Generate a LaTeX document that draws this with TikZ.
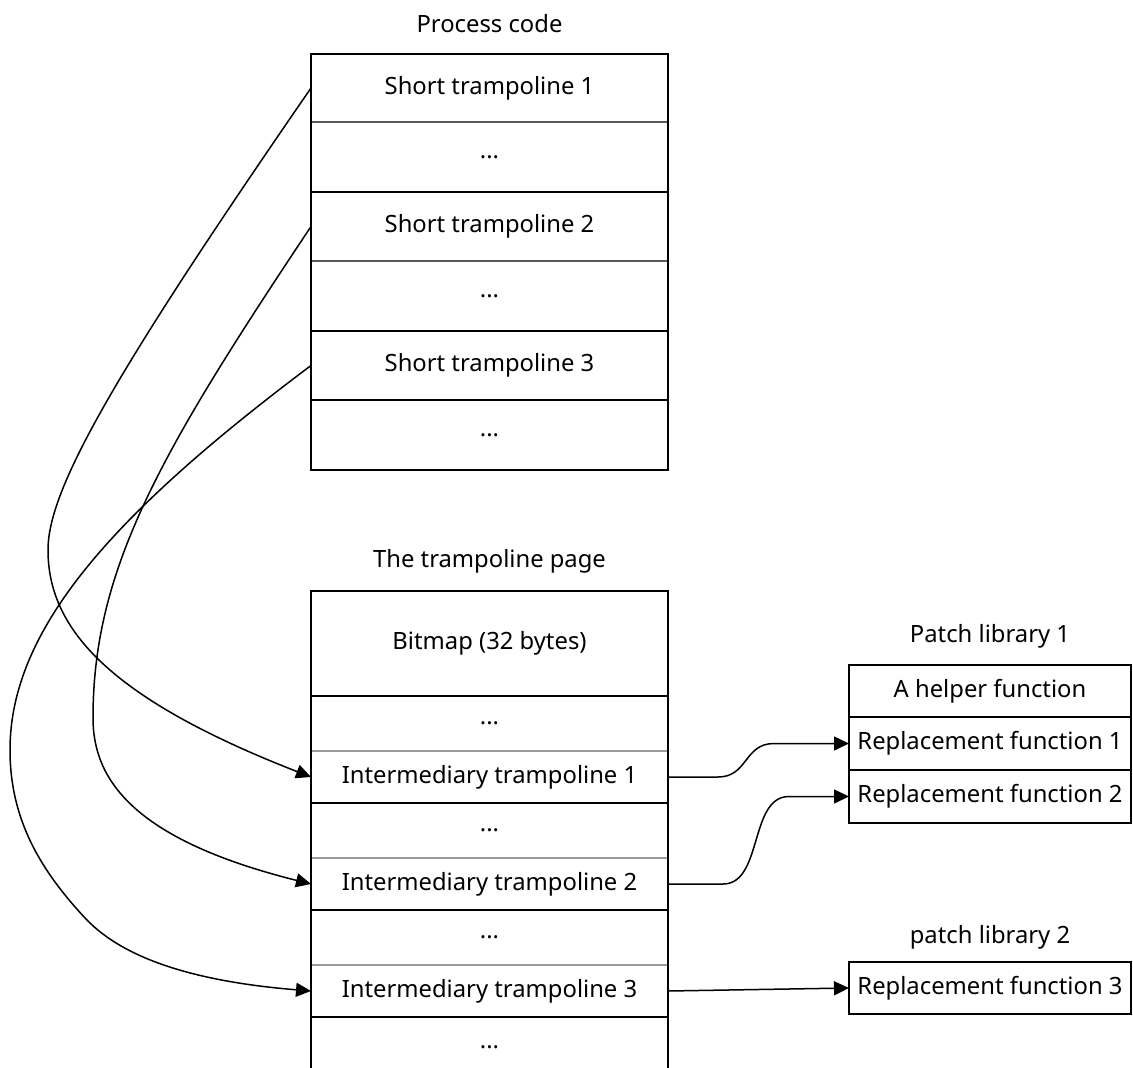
\documentclass[tikz,border=0pt]{standalone}
\usepackage{fontspec}
\setmainfont{Noto Sans}
\usetikzlibrary{arrows.meta}
\begin{document}
\begin{tikzpicture}[x=1pt,y=-1pt,
  every node/.style={font=\fontsize{23.8}{28}\selectfont, inner sep=0pt, outer sep=0pt},
  pcell/.style={minimum width=357pt},
  lcell/.style={minimum width=282pt},
  title/.style={anchor=base},
  frame/.style={line width=1.8pt, line join=miter},
  rule/.style={line width=1.4pt},
  midrule/.style={line width=1.4pt, draw=black!65},
  softrule/.style={line width=1.4pt, draw=black!40},
  conn/.style={line width=1.5pt, -{Triangle[length=15pt,width=14pt]}},
]
\useasboundingbox (0,0) rectangle (1133,1068);
\fill[white] (0,0) rectangle (1133,1068);

% ---- Process code ----
\node[title] (pctitle) at (489.5,32) {Process code};
\node[pcell, minimum height=68pt] (st1) at (489.5,88)    {Short trampoline 1};
\node[pcell, minimum height=70pt] (pd1) at (489.5,157)   {...};
\node[pcell, minimum height=69pt] (st2) at (489.5,226.5) {Short trampoline 2};
\node[pcell, minimum height=70pt] (pd2) at (489.5,296)   {...};
\node[pcell, minimum height=69pt] (st3) at (489.5,365.5) {Short trampoline 3};
\node[pcell, minimum height=70pt] (pd3) at (489.5,435)   {...};
\draw[midrule] (st1.south west) -- (st1.south east);
\draw[rule]    (pd1.south west) -- (pd1.south east);
\draw[midrule] (st2.south west) -- (st2.south east);
\draw[rule]    (pd2.south west) -- (pd2.south east);
\draw[rule]    (st3.south west) -- (st3.south east);
\draw[frame] (st1.north west) rectangle (pd3.south east);

% ---- The trampoline page (runs past the bottom edge) ----
\node[title] (tptitle) at (489.5,567) {The trampoline page};
\node[pcell, minimum height=105pt] (bm)  at (489.5,643.5) {Bitmap (32 bytes)};
\node[pcell, minimum height=55pt]  (td1) at (489.5,723.5) {...};
\node[pcell, minimum height=52pt]  (it1) at (489.5,777)   {Intermediary trampoline 1};
\node[pcell, minimum height=55pt]  (td2) at (489.5,830.5) {...};
\node[pcell, minimum height=52pt]  (it2) at (489.5,884)   {Intermediary trampoline 2};
\node[pcell, minimum height=55pt]  (td3) at (489.5,937.5) {...};
\node[pcell, minimum height=52pt]  (it3) at (489.5,991)   {Intermediary trampoline 3};
\node[pcell, minimum height=60pt]  (td4) at (489.5,1047)  {...};
\draw[rule]     (bm.south west)  -- (bm.south east);
\draw[softrule] (td1.south west) -- (td1.south east);
\draw[rule]     (it1.south west) -- (it1.south east);
\draw[softrule] (td2.south west) -- (td2.south east);
\draw[rule]     (it2.south west) -- (it2.south east);
\draw[softrule] (td3.south west) -- (td3.south east);
\draw[rule]     (it3.south west) -- (it3.south east);
\draw[frame] (td4.south west) -- (bm.north west) -- (bm.north east) -- (td4.south east);

% ---- Patch library 1 ----
\node[title] (pl1title) at (990,642) {Patch library 1};
\node[lcell, minimum height=52pt] (hf)  at (990,691)   {A helper function};
\node[lcell, minimum height=53pt] (rf1) at (990,743.5) {Replacement function 1};
\node[lcell, minimum height=53pt] (rf2) at (990,796.5) {Replacement function 2};
\draw[rule] (hf.south west)  -- (hf.south east);
\draw[rule] (rf1.south west) -- (rf1.south east);
\draw[frame] (hf.north west) rectangle (rf2.south east);

% ---- patch library 2 ----
\node[title] (pl2title) at (990,943) {patch library 2};
\node[lcell, minimum height=52pt, draw, line width=1.8pt] (rf3) at (990,988) {Replacement function 3};

% ---- short trampolines -> intermediary trampolines ----
\coordinate (w1)  at (48,550);
\coordinate (w2)  at (93,718);
\coordinate (w3a) at (10,750);
\coordinate (w3b) at (86,919);
\draw[conn] (st1.west) .. controls +(-200,290) and +(0,-60) .. (w1)
                       .. controls +(0,80) and +(-200,-78) .. (it1.west);
\draw[conn] (st2.west) .. controls +(-150,225) and +(0,-150) .. (w2)
                       .. controls +(0,60) and +(-180,-45) .. (it2.west);
\draw[conn] (st3.west) .. controls +(-200,150) and +(0,-120) .. (w3a)
                       .. controls +(0,70) and +(-45,-48) .. (w3b)
                       .. controls +(40,42) and +(-110,-9) .. (it3.west);

% ---- intermediary trampolines -> replacement functions ----
\draw[conn] (it1.east) -- ++(50,0) .. controls +(30,0) and +(-30,0) .. ([xshift=-75pt]rf1.west) -- (rf1.west);
\draw[conn] (it2.east) -- ++(55,0) .. controls +(40,0) and +(-40,0) .. ([xshift=-60pt]rf2.west) -- (rf2.west);
\draw[conn] (it3.east) -- (rf3.west);
\end{tikzpicture}
\end{document}
